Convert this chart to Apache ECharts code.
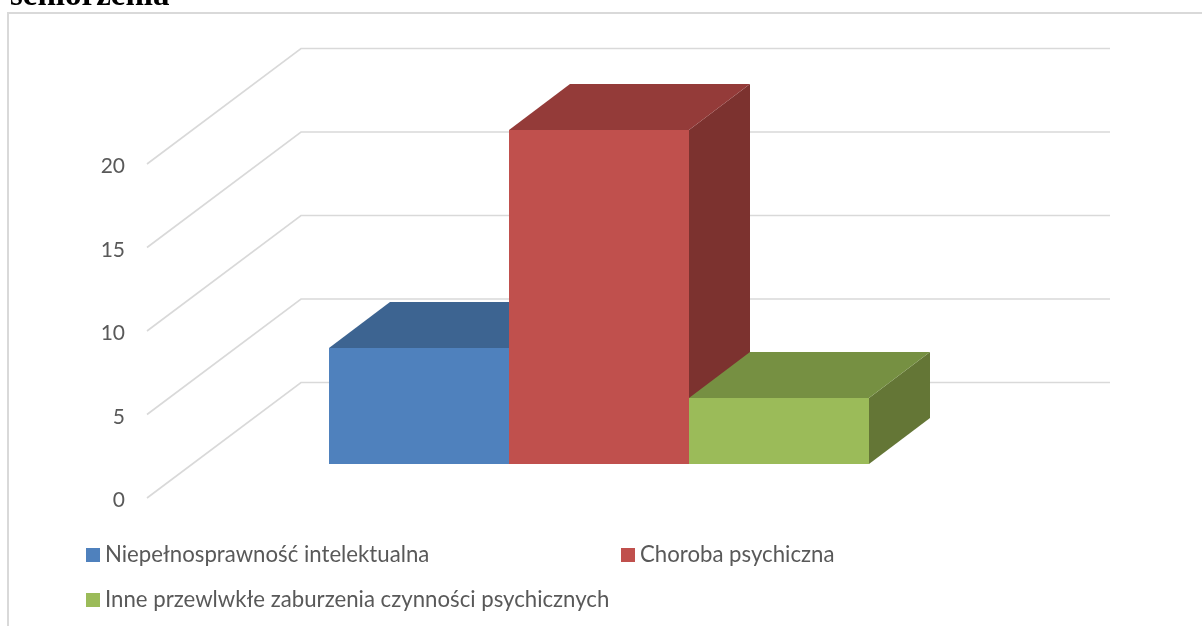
<!DOCTYPE html>
<html>
<head>
<meta charset="utf-8">
<style>html,body{margin:0;padding:0;background:#fff}#c{width:1202px;height:626px}</style>
<script src="https://cdn.jsdelivr.net/npm/echarts@6/dist/echarts.min.js"></script>
</head>
<body>
<div id="c"></div>
<script>
const categories = ['Rodzaj'];
const tickValues = [0, 5, 10, 15, 20];
const seriesNames = ['Niepełnosprawność intelektualna', 'Choroba psychiczna', 'Inne przewlwkłe zaburzenia czynności psychicznych'];
const intellectual = [7];
const mental = [20];
const other = [4];
const frontColors = ['#4F81BD', '#C0504D', '#9BBB59'];
const topColors = ['#3D6491', '#943B39', '#769042'];
const sideColors = ['#33547A', '#7C322F', '#647636'];

const FONT = 'Lato';
const WALL_DX = 154, WALL_DY = 115.5;
const BAR_DX = 61, BAR_DY = 46;
const FRONT_DY = 33.6;
const BAR_RATIO = 180 / 809;
const BAR_OFFSETS = [-132.5, 47.5, 227.5];

function wallItem(params, api) {
  const p = api.coord([0, api.value(1)]);
  const cs = params.coordSys;
  return {
    type: 'polyline',
    shape: { points: [[cs.x, p[1]], [cs.x + WALL_DX, p[1] - WALL_DY], [cs.x + cs.width + WALL_DX, p[1] - WALL_DY]] },
    style: { fill: 'none', stroke: '#D9D9D9', lineWidth: 1.6 },
    silent: true
  };
}
function barItem(idx) {
  return function (params, api) {
    const top = api.coord([0, api.value(1)]);
    const base = api.coord([0, 0]);
    const w = api.size([1, 0])[0] * BAR_RATIO;
    const cx = top[0] + BAR_OFFSETS[idx];
    const l = Math.round(cx - w / 2), r = Math.round(cx + w / 2);
    const t = Math.round(top[1] - FRONT_DY), b = Math.round(base[1] - FRONT_DY);
    return {
      type: 'group',
      children: [
        { type: 'polygon', shape: { points: [[r, t], [r + BAR_DX, t - BAR_DY], [r + BAR_DX, b - BAR_DY], [r, b]] }, style: { fill: sideColors[idx] } },
        { type: 'polygon', shape: { points: [[l, t], [l + BAR_DX, t - BAR_DY], [r + BAR_DX, t - BAR_DY], [r, t]] }, style: { fill: topColors[idx] } },
        { type: 'rect', shape: { x: l, y: t, width: r - l, height: b - t }, style: { fill: frontColors[idx] } }
      ]
    };
  };
}
const valueLists = [intellectual, mental, other];
const series = [{
  type: 'custom', name: 'siatka', renderItem: wallItem, clip: false, silent: true, z: 1,
  data: tickValues.map(v => [0, v])
}].concat(seriesNames.map((name, i) => ({
  type: 'custom', name, renderItem: barItem(i), clip: false, z: 2 + i,
  itemStyle: { color: frontColors[i] },
  data: valueLists[i].map((v, k) => [k, v])
})));
const legendText = { fontFamily: FONT, fontSize: 22.2, color: '#595959' };
function legendAt(name, left, top) {
  return { data: [{ name, icon: 'rect' }], left, top, padding: 0, itemWidth: 14, itemHeight: 14, selectedMode: false, textStyle: legendText };
}
const chart = echarts.init(document.getElementById('c'), null, { renderer: 'canvas' });
chart.setOption({
  animation: false,
  backgroundColor: '#fff',
  title: {
    text: 'seniorzenia', left: 10, top: -20, padding: 0,
    textStyle: { fontFamily: 'Liberation Serif', fontWeight: 'bold', fontSize: 33, color: '#000' }
  },
  grid: { left: 147, top: 164, width: 809, height: 334, containLabel: false },
  xAxis: { type: 'category', data: categories, show: false },
  yAxis: {
    type: 'value', min: 0, max: 20, interval: 5,
    axisLine: { show: false }, axisTick: { show: false }, splitLine: { show: false },
    axisLabel: { margin: 22, fontFamily: FONT, fontSize: 21, color: '#595959', verticalAlign: 'top', lineHeight: 5 }
  },
  legend: [
    legendAt(seriesNames[0], 86, 544),
    legendAt(seriesNames[1], 621, 544),
    legendAt(seriesNames[2], 86, 589)
  ],
  graphic: [{
    type: 'polyline', silent: true, z: 0,
    shape: { points: [[8, 626], [8, 13], [1202, 13]] },
    style: { fill: 'none', stroke: '#D9D9D9', lineWidth: 2 }
  }],
  series
});
</script>
</body>
</html>
